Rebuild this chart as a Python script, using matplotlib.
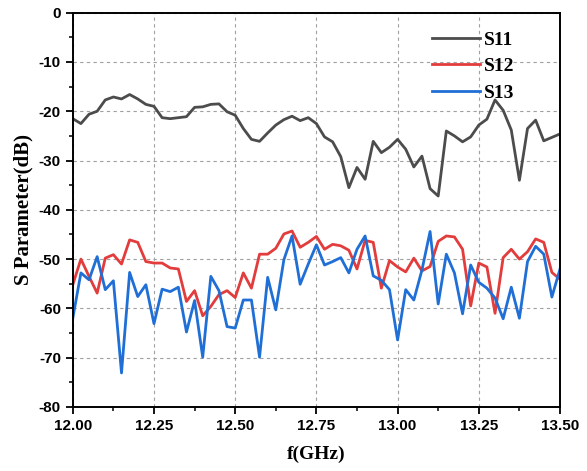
import numpy as np
import matplotlib
matplotlib.use('Agg')
import matplotlib.pyplot as plt
from matplotlib.ticker import MultipleLocator

plt.rcParams['axes.unicode_minus'] = False

# frequency points (GHz)
freq = np.linspace(12.0, 13.5, 61)

s11 = [-21.5, -22.5, -20.6, -20.0, -17.7, -17.1, -17.5, -16.6, -17.5, -18.6,
       -19.0, -21.3, -21.5, -21.3, -21.1, -19.2, -19.1, -18.6, -18.5, -20.1,
       -20.8, -23.5, -25.7, -26.1, -24.4, -22.8, -21.7, -21.0, -21.9, -21.3,
       -22.5, -25.2, -26.2, -29.2, -35.5, -31.4, -33.8, -26.1, -28.4, -27.3,
       -25.7, -27.7, -31.3, -29.1, -35.7, -37.2, -24.0, -25.0, -26.2, -25.2,
       -22.8, -21.6, -17.7, -19.8, -23.8, -34.0, -23.5, -21.8, -26.0, -25.3,
       -24.6]

s12 = [-55.2, -50.0, -53.5, -56.9, -49.8, -49.1, -51.0, -46.1, -46.6, -50.5,
       -50.8, -50.8, -51.8, -52.0, -58.6, -56.4, -61.5, -59.6, -57.2, -56.4,
       -57.8, -52.8, -55.9, -49.0, -49.0, -47.8, -44.9, -44.3, -47.6, -46.6,
       -45.4, -48.0, -47.0, -47.3, -48.2, -52.0, -46.2, -46.6, -55.9, -50.3,
       -51.6, -52.6, -49.8, -52.4, -51.5, -46.4, -45.3, -45.5, -48.0, -59.5,
       -50.8, -51.6, -61.0, -49.7, -48.0, -50.0, -48.5, -45.9, -46.6, -52.7,
       -54.1]

s13 = [-62.0, -52.8, -54.2, -49.5, -56.2, -54.4, -73.1, -52.7, -57.6, -55.2,
       -63.1, -56.1, -56.6, -55.7, -64.8, -58.4, -69.9, -53.5, -56.4, -63.7,
       -64.0, -58.3, -58.3, -69.9, -53.7, -60.3, -50.1, -45.3, -55.1, -51.0,
       -47.1, -51.2, -50.5, -49.7, -52.8, -48.0, -45.3, -53.4, -54.3, -56.2,
       -66.4, -56.2, -58.3, -52.2, -44.4, -59.1, -49.0, -52.8, -61.1, -51.2,
       -54.7, -55.9, -57.9, -62.1, -55.7, -62.0, -50.5, -47.4, -49.0, -57.7,
       -52.0]

labels = ['S11', 'S12', 'S13']
colors = ['#4c4c4c', '#e23c3c', '#1f6fd6']

serif = ['Liberation Serif', 'DejaVu Serif']
sans = ['Liberation Sans', 'DejaVu Sans']

fig = plt.figure(figsize=(5.87, 4.71), dpi=100)
ax = fig.add_axes([0.124, 0.136, 0.830, 0.837])

for y, lab, c in zip([s11, s12, s13], labels, colors):
    ax.plot(freq, y, color=c, lw=2.0, label=lab)

ax.set_xlim(12.0, 13.5)
ax.set_ylim(-80, 0)
ax.xaxis.set_major_locator(MultipleLocator(0.25))
ax.xaxis.set_minor_locator(MultipleLocator(0.125))
ax.yaxis.set_major_locator(MultipleLocator(10))
ax.yaxis.set_minor_locator(MultipleLocator(5))
ax.xaxis.set_major_formatter(matplotlib.ticker.FormatStrFormatter('%.2f'))

ax.grid(True, which='major', color='#a0a0a0', ls=(0, (3, 3)), lw=0.8)
ax.tick_params(which='major', direction='out', length=5, width=1.3)
ax.tick_params(which='minor', direction='out', length=3, width=1.1)
for sp in ax.spines.values():
    sp.set_linewidth(1.4)

for t in ax.get_xticklabels() + ax.get_yticklabels():
    t.set_family(sans)
    t.set_fontweight('bold')
    t.set_fontsize(11)

ax.set_xlabel('f(GHz)', family=serif, fontweight='bold', fontsize=14, labelpad=9)
ax.set_ylabel('S Parameter(dB)', family=serif, fontweight='bold', fontsize=15, labelpad=4)

leg = ax.legend(loc='upper left', bbox_to_anchor=(0.737, 0.953), frameon=False,
                handlelength=2.5, handletextpad=0.2, labelspacing=0.45,
                borderpad=0, borderaxespad=0,
                prop={'family': serif, 'weight': 'bold', 'size': 14})

fig.savefig('out.png', dpi=100)
